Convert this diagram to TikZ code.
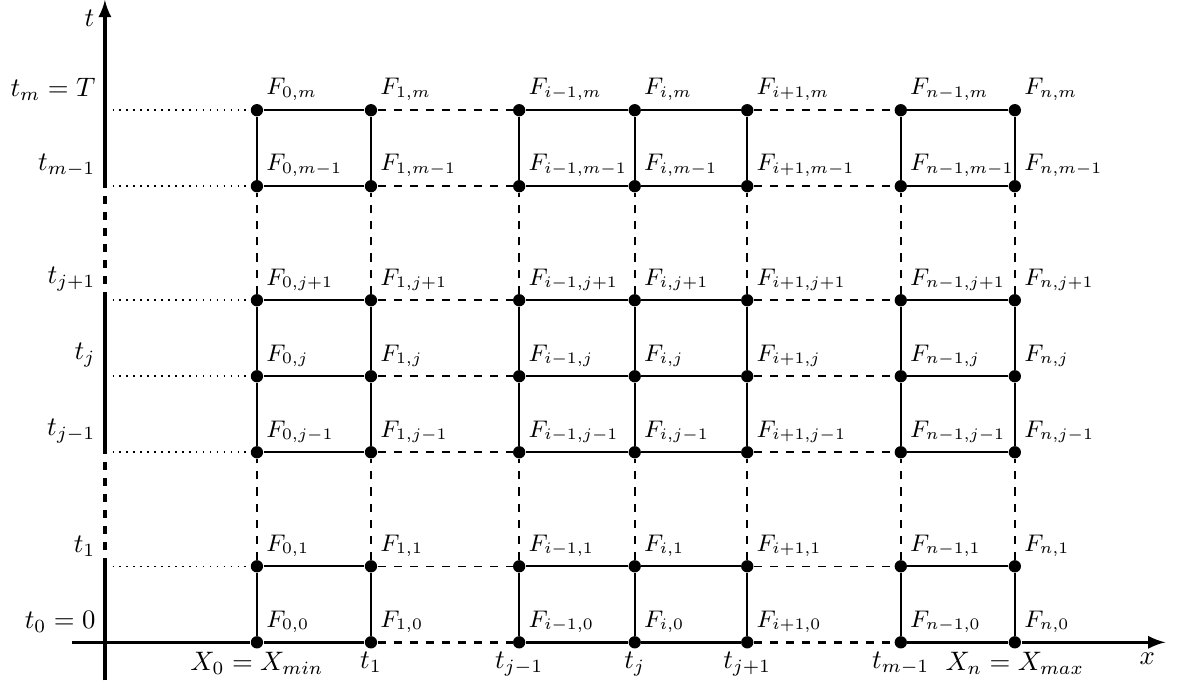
\documentclass[tikz,border=0pt]{standalone}
\usetikzlibrary{arrows.meta}
\tikzstyle{gridpt}=[circle,fill=black,inner sep=0pt,minimum size=4.6pt]
\tikzstyle{val}=[above right,font=\small]
\tikzstyle{axis}=[very thick]
\tikzstyle{cell}=[thick]
\tikzstyle{gap}=[semithick,dashed]
\tikzstyle{guide}=[semithick,dotted,shorten <=1mm]

\begin{document}
\begin{tikzpicture}[>=latex]
  \useasboundingbox (-1.38,-0.51) rectangle (14.13,8.45);
  % grid points F_{i,j} with their labels
  \foreach \x/\a [count=\c] in {2/0, 3.5/1, 5.45/i-1, 6.97/i, 8.45/i+1, 10.47/n-1, 11.97/n}{
    \foreach \y/\b [count=\r] in {0/0, 1/1, 2.5/j-1, 3.5/j, 4.5/j+1, 6/m-1, 7/m}{
      \node[gridpt] (p\c\r) at (\x,\y) {};
      \node[val] (f\c\r) at (p\c\r) {$F_{\a,\b}$};
    }
  }
  % points on the t axis
  \foreach \y [count=\r] in {0, 1, 2.5, 3.5, 4.5, 6, 7}
    \coordinate (ta\r) at (0,\y);
  \coordinate (xbeg) at (-0.43,0);
  \coordinate (xend) at (13.95,0);
  \coordinate (tbeg) at (0,-0.5);
  \coordinate (tend) at (0,8.45);

  % x axis
  \draw[axis] (xbeg) -- (p11) -- (p21);
  \draw[axis,dashed] (p21) -- (p31);
  \draw[axis] (p31) -- (p41) -- (p51);
  \draw[axis,dashed] (p51) -- (p61);
  \draw[axis,->] (p61) -- (p71) -- (xend) node[below left] (xlab) {$x$};
  % t axis
  \draw[axis] (tbeg) -- (ta2);
  \draw[axis,dashed] (ta2) -- (ta3);
  \draw[axis] (ta3) -- (ta5);
  \draw[axis,dashed] (ta5) -- (ta6);
  \draw[axis,->] (ta6) -- (tend) node[below left] (tlab) {$t$};

  % time levels
  \foreach \r/\lab in {1/t_0 = 0, 2/t_1, 3/t_{j-1}, 4/t_j, 5/t_{j+1}, 6/t_{m-1}, 7/t_m = T}
    \node[above left] (tl\r) at (ta\r) {$\lab$};
  % space steps
  \foreach \c/\lab in {1/X_0 = X_{min}, 2/t_1, 3/t_{j-1}, 4/t_j, 5/t_{j+1}, 6/t_{m-1}, 7/X_n = X_{max}}
    \node[below] (xl\c) at (p\c1) {$\lab$};

  % dotted guides from the t axis
  \foreach \r in {2,...,7}
    \draw[guide] (ta\r) -- (p1\r);

  % horizontal lines
  \foreach \r in {2,...,7}{
    \draw[cell] (p1\r) -- (p2\r);
    \draw[gap] (p2\r) -- (p3\r);
    \draw[cell] (p3\r) -- (p4\r) -- (p5\r);
    \draw[gap] (p5\r) -- (p6\r);
    \draw[cell] (p6\r) -- (p7\r);
  }
  % vertical lines
  \foreach \c in {1,...,7}{
    \draw[cell] (p\c1) -- (p\c2);
    \draw[gap] (p\c2) -- (p\c3);
    \draw[cell] (p\c3) -- (p\c4) -- (p\c5);
    \draw[gap] (p\c5) -- (p\c6);
    \draw[cell] (p\c6) -- (p\c7);
  }
\end{tikzpicture}
\end{document}
